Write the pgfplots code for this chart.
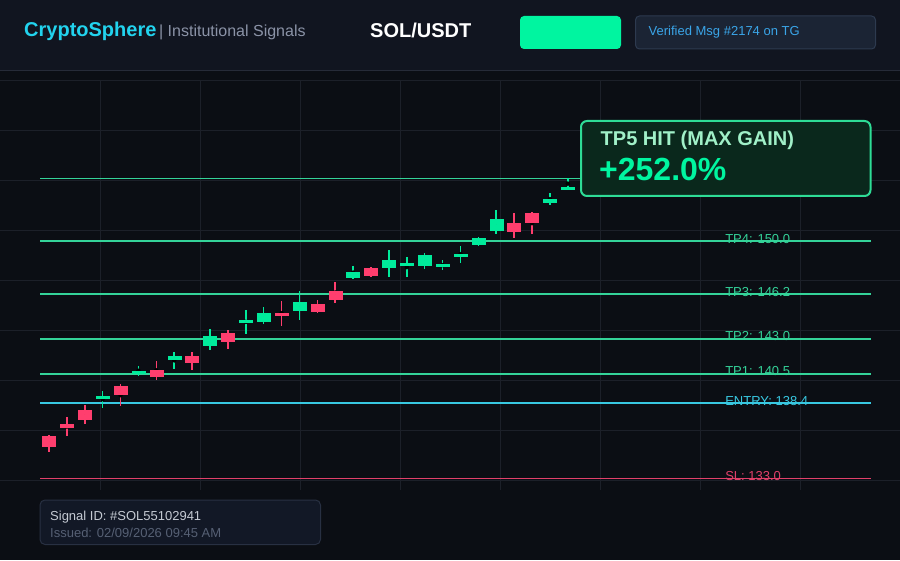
\documentclass[border=0pt]{standalone}
\usepackage{pgfplots}
\usepackage{pgfplotstable}
\pgfplotsset{compat=1.18}
\usepackage{fontspec}
\setmainfont{Liberation Sans}
\definecolor{bgmain}{RGB}{11,14,20}
\definecolor{bghead}{RGB}{17,21,32}
\definecolor{sepline}{RGB}{38,43,56}
\definecolor{gridc}{RGB}{28,32,41}
\definecolor{cgreen}{RGB}{0,235,155}
\definecolor{cred}{RGB}{255,62,110}
\definecolor{tpc}{RGB}{52,211,153}
\definecolor{entryc}{RGB}{56,200,225}
\definecolor{slc}{RGB}{225,64,106}
\definecolor{cyanbrand}{RGB}{34,211,238}
\definecolor{graytxt}{RGB}{139,147,167}
\definecolor{mint}{RGB}{0,245,160}
\definecolor{vbox}{RGB}{27,36,52}
\definecolor{vborder}{RGB}{45,58,79}
\definecolor{vtext}{RGB}{58,165,232}
\definecolor{tpboxfill}{RGB}{10,40,28}
\definecolor{tpboxdraw}{RGB}{46,220,150}
\definecolor{tptitle}{RGB}{160,240,200}
\definecolor{sbox}{RGB}{18,24,38}
\definecolor{sborder}{RGB}{40,48,66}
\definecolor{stext}{RGB}{197,202,211}
\definecolor{stext2}{RGB}{86,96,116}

% i open high low close
\pgfplotstableread{
i o h l c
4 138.73 139.30 138.08 138.92
6 140.55 141.07 140.36 140.71
8 141.57 142.07 140.86 141.79
10 142.53 143.72 142.22 143.22
12 144.17 145.08 143.36 144.37
13 144.30 145.30 144.08 144.85
15 145.03 146.45 144.32 145.64
18 147.40 148.21 147.28 147.81
20 148.11 149.38 147.47 148.67
21 148.26 148.88 147.40 148.45
22 148.26 149.17 148.04 149.02
23 148.19 148.67 147.90 148.38
24 148.90 149.67 148.47 149.10
25 149.76 150.33 149.62 150.22
26 150.81 152.25 150.55 151.60
29 152.77 153.47 152.56 153.01
30 153.73 154.52 153.72 153.87
}\greentab

\pgfplotstableread{
i o h l c
1 136.01 136.13 134.93 135.29
2 136.92 137.44 136.01 136.65
3 137.92 138.28 136.92 137.25
5 139.64 139.78 138.16 139.02
7 140.79 141.43 140.07 140.31
9 141.79 142.07 140.79 141.31
11 143.44 143.65 142.29 142.86
14 144.87 145.73 143.96 144.68
16 145.51 145.80 144.89 145.01
17 146.45 147.07 145.56 145.85
19 148.09 148.16 147.40 147.54
27 151.32 152.05 150.26 150.69
28 152.03 152.10 150.48 151.34
}\redtab

\pgfplotsset{
  wick/.style={only marks, mark=none, error bars/.cd, y dir=both, y explicit, error mark=none,
    error bar style={line width=1.6pt, draw=#1}},
  body/.style={only marks, scatter, mark=*, mark size=0pt, mark options={draw=none,fill=none},
    visualization depends on={abs(\thisrow{c}-\thisrow{o})*6.98 \as \hh},
    scatter/@pre marker code/.code={\fill[#1] (-6.5pt,-\hh pt) rectangle (6.5pt,\hh pt);},
    scatter/@post marker code/.code={}},
  level/.style={#1, line width=1.5pt},
}

\begin{document}
\begin{tikzpicture}[x=1pt,y=1pt]
\useasboundingbox (0,0) rectangle (900,560);
\fill[bgmain] (0,0) rectangle (900,560);
\fill[bghead] (0,490) rectangle (900,560);
\draw[sepline, line width=1pt] (0,489.7) -- (900,489.7);
% background grid
\foreach \gy in {80,130,...,480} {\draw[gridc, line width=0.9pt] (0,560-\gy) -- (900,560-\gy);}
\foreach \gx in {100,200,...,800} {\draw[gridc, line width=0.9pt] (\gx,480) -- (\gx,70);}

\begin{axis}[at={(0,0)}, anchor=south west, scale only axis,
  width=900pt, height=560pt,
  xmin=-1.739, xmax=48.568, ymin=127.161, ymax=167.276,
  hide axis, clip=true]
% level lines
\addplot[level=tpc] coordinates {(0.497,154.5) (46.95,154.5)};
\addplot[level=tpc] coordinates {(0.497,150.0) (46.95,150.0)};
\addplot[level=tpc] coordinates {(0.497,146.2) (46.95,146.2)};
\addplot[level=tpc] coordinates {(0.497,143.0) (46.95,143.0)};
\addplot[level=tpc] coordinates {(0.497,140.5) (46.95,140.5)};
\addplot[level=entryc] coordinates {(0.497,138.4) (46.95,138.4)};
\addplot[level=slc] coordinates {(0.497,133.0) (46.95,133.0)};
% wicks
\addplot[wick=cgreen]
  table[x=i, y expr={(\thisrow{h}+\thisrow{l})/2}, y error expr={(\thisrow{h}-\thisrow{l})/2}] {\greentab};
\addplot[wick=cred]
  table[x=i, y expr={(\thisrow{h}+\thisrow{l})/2}, y error expr={(\thisrow{h}-\thisrow{l})/2}] {\redtab};
% bodies
\addplot[body=cgreen] table[x=i, y expr={(\thisrow{o}+\thisrow{c})/2}] {\greentab};
\addplot[body=cred] table[x=i, y expr={(\thisrow{o}+\thisrow{c})/2}] {\redtab};
% labels
\node[anchor=base west, inner sep=0pt, text=tpc, font=\fontsize{13}{15}\selectfont, yshift=-2pt] at (axis cs:38.79,150.0) {TP4: 150.0};
\node[anchor=base west, inner sep=0pt, text=tpc, font=\fontsize{13}{15}\selectfont, yshift=-2pt] at (axis cs:38.79,146.2) {TP3: 146.2};
\node[anchor=base west, inner sep=0pt, text=tpc, font=\fontsize{13}{15}\selectfont, yshift=-2pt] at (axis cs:38.79,143.0) {TP2: 143.0};
\node[anchor=base west, inner sep=0pt, text=tpc, font=\fontsize{13}{15}\selectfont, yshift=-2pt] at (axis cs:38.79,140.5) {TP1: 140.5};
\node[anchor=base west, inner sep=0pt, text=entryc, font=\fontsize{13}{15}\selectfont, yshift=-2pt] at (axis cs:38.79,138.4) {ENTRY: 138.4};
\node[anchor=base west, inner sep=0pt, text=slc, font=\fontsize{13}{15}\selectfont, yshift=-2pt] at (axis cs:38.79,133.0) {SL: 133.0};
\end{axis}

% header
\node[anchor=base west, inner sep=0pt, text=cyanbrand, font=\fontsize{20}{24}\selectfont\bfseries] at (24,523) {CryptoSphere};
\node[anchor=base west, inner sep=0pt, text=graytxt, font=\fontsize{16}{19}\selectfont] at (154.5,523) {\ | Institutional Signals};
\node[anchor=base west, inner sep=0pt, text=white, font=\fontsize{20}{24}\selectfont\bfseries] at (370,522.5) {SOL/USDT};
\fill[mint, rounded corners=4pt] (520,511) rectangle (621,544);
\filldraw[fill=vbox, draw=vborder, line width=1pt, rounded corners=4pt] (635.5,511) rectangle (875.5,544);
\node[anchor=base west, inner sep=0pt, text=vtext, font=\fontsize{13}{15}\selectfont] at (648.5,524.5) {Verified Msg \#2174 on TG};

% TP5 box
\filldraw[fill=tpboxfill, draw=tpboxdraw, line width=2pt, rounded corners=6pt] (581,364) rectangle (870.5,439);
\node[anchor=base west, inner sep=0pt, text=tptitle, font=\fontsize{20}{24}\selectfont\bfseries] at (600.5,414) {TP5 HIT (MAX GAIN)};
\node[anchor=base west, inner sep=0pt, text=mint, font=\fontsize{32}{38}\selectfont\bfseries] at (599,379) {+252.0\%};

% signal box
\filldraw[fill=sbox, draw=sborder, line width=1pt, rounded corners=5pt] (40,15.5) rectangle (320.5,60);
\node[anchor=base west, inner sep=0pt, text=stext, font=\fontsize{13}{15}\selectfont] at (50,40) {Signal ID: \#SOL55102941};
\node[anchor=base west, inner sep=0pt, text=stext2, font=\fontsize{13}{15}\selectfont] at (50,22.5) {Issued: 02/09/2026 09:45 AM};
\end{tikzpicture}
\end{document}
